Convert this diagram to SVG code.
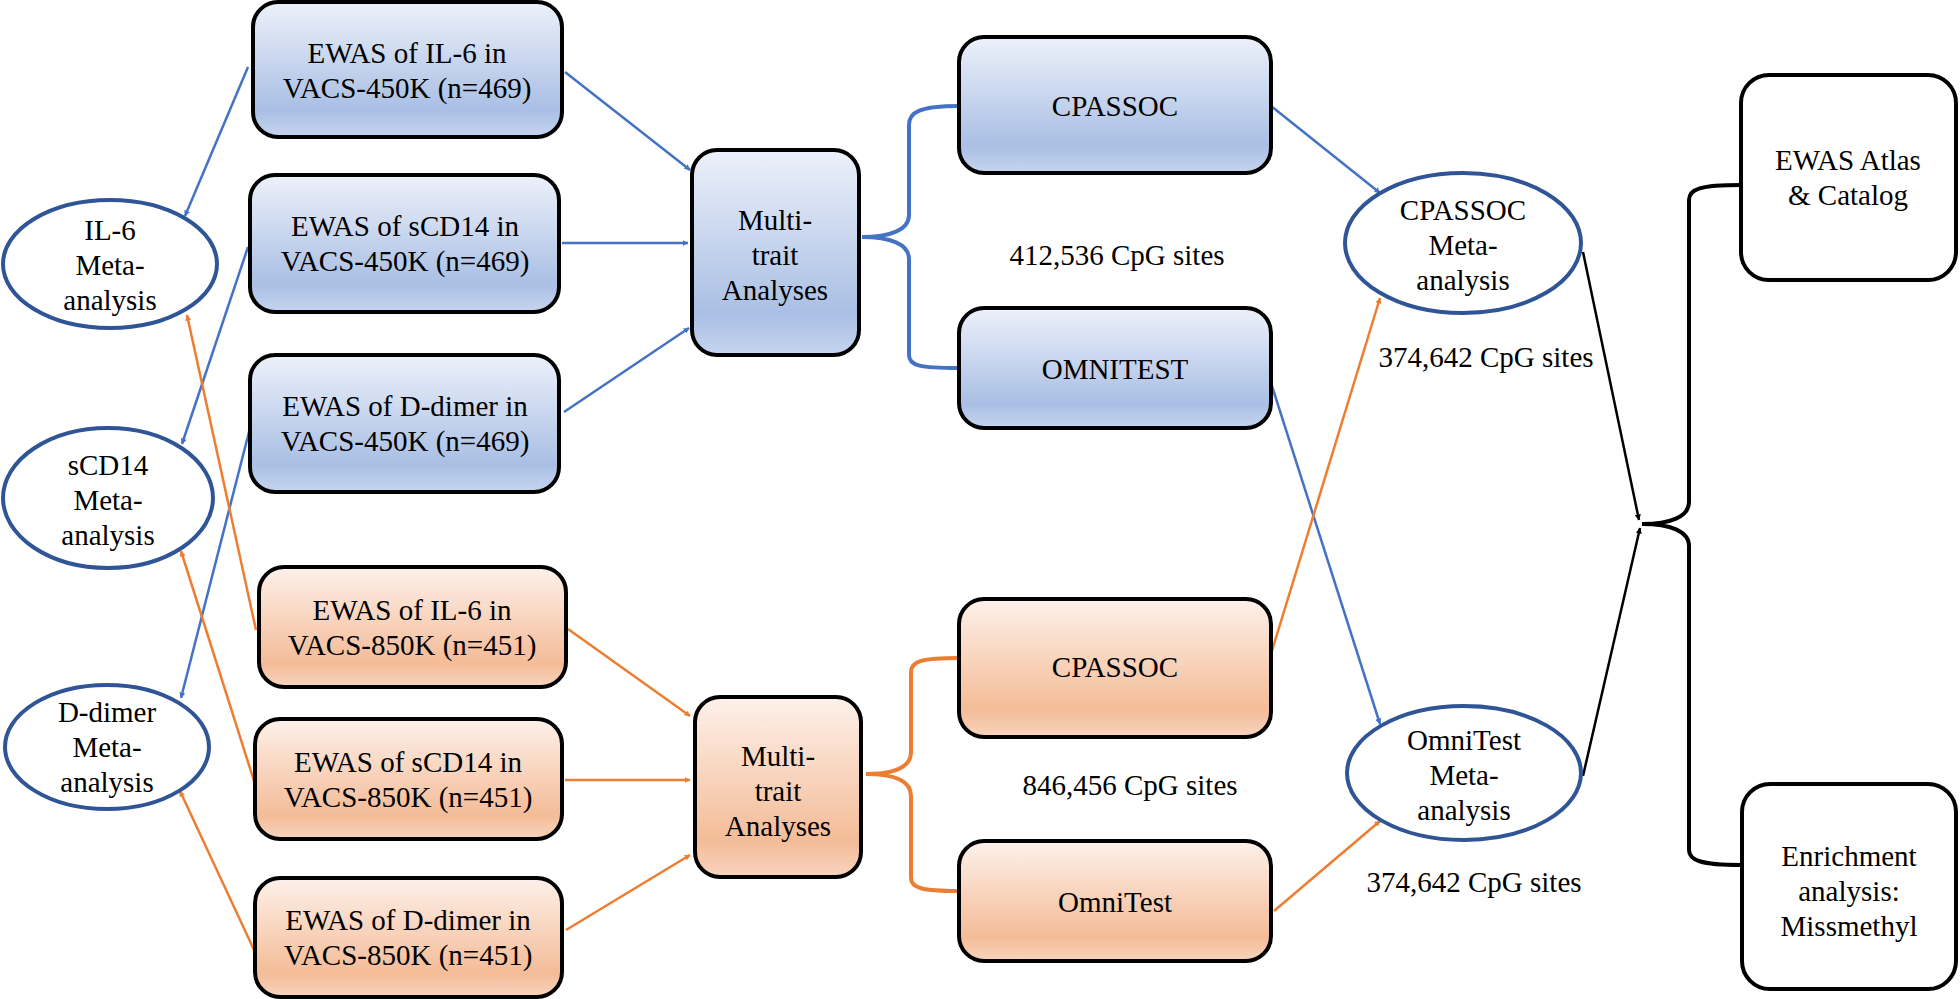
<svg xmlns="http://www.w3.org/2000/svg" width="1960" height="999" viewBox="0 0 1960 999">
<defs>
<linearGradient id="gb" x1="0" y1="0" x2="0" y2="1"><stop offset="0" stop-color="#EDF1FA"/><stop offset="0.8" stop-color="#A9BFE4"/><stop offset="1" stop-color="#C6D5EF"/></linearGradient>
<linearGradient id="go" x1="0" y1="0" x2="0" y2="1"><stop offset="0" stop-color="#FDF1EA"/><stop offset="0.8" stop-color="#F4BC98"/><stop offset="1" stop-color="#F8D4BE"/></linearGradient>
<marker id="ab" viewBox="0 0 10 10" refX="9" refY="5" markerWidth="6" markerHeight="6" orient="auto" markerUnits="userSpaceOnUse"><path d="M0,0 L10,5 L0,10 z" fill="#4472C4"/></marker>
<marker id="ao" viewBox="0 0 10 10" refX="9" refY="5" markerWidth="6" markerHeight="6" orient="auto" markerUnits="userSpaceOnUse"><path d="M0,0 L10,5 L0,10 z" fill="#ED7D31"/></marker>
<marker id="ak" viewBox="0 0 10 10" refX="9" refY="5" markerWidth="6" markerHeight="6" orient="auto" markerUnits="userSpaceOnUse"><path d="M0,0 L10,5 L0,10 z" fill="#000"/></marker>
<style>
.b{fill:url(#gb);stroke:#000;stroke-width:4}
.o{fill:url(#go);stroke:#000;stroke-width:4}
.w{fill:#fff;stroke:#000;stroke-width:4}
.e{fill:#fff;stroke:#2F5597;stroke-width:4}
text{font-family:"Liberation Serif","Times New Roman",serif;font-size:29px;fill:#000;text-anchor:middle}
.lb{stroke:#4472C4;stroke-width:2.5;fill:none;marker-end:url(#ab)}
.lo{stroke:#ED7D31;stroke-width:2.5;fill:none;marker-end:url(#ao)}
.lk{stroke:#000;stroke-width:2.5;fill:none;marker-end:url(#ak)}
.bb{stroke:#4472C4;stroke-width:4;fill:none}
.bo{stroke:#ED7D31;stroke-width:4;fill:none}
.bk{stroke:#000;stroke-width:4;fill:none}
</style>
</defs>
<rect width="1960" height="999" fill="#fff"/>
<g id="connectors">
<path class="lb" d="M565,72 L690,170"/>
<path class="lb" d="M562,243 L688,243"/>
<path class="lb" d="M564,412 L689,328"/>
<path class="lb" d="M248,67 L185,216"/>
<path class="lb" d="M248,247 L182,444"/>
<path class="lb" d="M250,428 L181,698"/>
<path class="lo" d="M568,629 L690,716"/>
<path class="lo" d="M565,780 L690,780"/>
<path class="lo" d="M566,930 L690,855"/>
<path class="lo" d="M256,630 L187,315"/>
<path class="lo" d="M255,784 L181,551"/>
<path class="lo" d="M255,952 L180,791"/>
<path class="bb" d="M862,237 C890,237 909,230 909,215 L909,125 C909,112 920,106 959,106 M862,237 C890,237 909,244 909,259 L909,355 C909,366 920,368 959,368"/>
<path class="bo" d="M866,774 C894,774 911,767 911,752 L911,672 C911,661 922,658 959,658 M866,774 C894,774 911,781 911,796 L911,878 C911,888 922,891 959,891"/>
<path class="bk" d="M1642,524 C1670,524 1689,517 1689,502 L1689,200 C1689,189 1700,185 1741,185 M1642,524 C1670,524 1689,531 1689,546 L1689,850 C1689,860 1700,865 1741,865"/>
<path class="lb" d="M1271,106 L1380,193"/>
<path class="lb" d="M1271,383 L1380,724"/>
<path class="lo" d="M1271,654 L1380,298"/>
<path class="lo" d="M1274,911 L1380,821"/>
<path class="lk" d="M1583,252 L1639,520"/>
<path class="lk" d="M1583,776 L1640,528"/>
</g>
<g id="n_il6_450"><rect class="b" x="253" y="2" width="309" height="135" rx="25"/><text x="407" y="63">EWAS of IL-6 in</text><text x="407" y="98">VACS-450K (n=469)</text></g>
<g id="n_scd14_450"><rect class="b" x="250" y="175" width="309" height="137" rx="25"/><text x="405" y="236">EWAS of sCD14 in</text><text x="405" y="271">VACS-450K (n=469)</text></g>
<g id="n_ddimer_450"><rect class="b" x="250" y="355" width="309" height="137" rx="25"/><text x="405" y="416">EWAS of D-dimer in</text><text x="405" y="451">VACS-450K (n=469)</text></g>
<g id="n_multi_450"><rect class="b" x="692" y="150" width="167" height="205" rx="25"/><text x="775" y="230">Multi-</text><text x="775" y="265">trait</text><text x="775" y="300">Analyses</text></g>
<g id="n_cpassoc_450"><rect class="b" x="959" y="37" width="312" height="136" rx="25"/><text x="1115" y="116">CPASSOC</text></g>
<g id="n_omnitest_450"><rect class="b" x="959" y="308" width="312" height="120" rx="25"/><text x="1115" y="379">OMNITEST</text></g>
<g id="n_il6_850"><rect class="o" x="259" y="567" width="307" height="120" rx="25"/><text x="412" y="620">EWAS of IL-6 in</text><text x="412" y="655">VACS-850K (n=451)</text></g>
<g id="n_scd14_850"><rect class="o" x="255" y="719" width="307" height="120" rx="25"/><text x="408" y="772">EWAS of sCD14 in</text><text x="408" y="807">VACS-850K (n=451)</text></g>
<g id="n_ddimer_850"><rect class="o" x="255" y="878" width="307" height="119" rx="25"/><text x="408" y="930">EWAS of D-dimer in</text><text x="408" y="965">VACS-850K (n=451)</text></g>
<g id="n_multi_850"><rect class="o" x="695" y="697" width="166" height="180" rx="25"/><text x="778" y="766">Multi-</text><text x="778" y="801">trait</text><text x="778" y="836">Analyses</text></g>
<g id="n_cpassoc_850"><rect class="o" x="959" y="599" width="312" height="138" rx="25"/><text x="1115" y="677">CPASSOC</text></g>
<g id="n_omnitest_850"><rect class="o" x="959" y="841" width="312" height="120" rx="25"/><text x="1115" y="912">OmniTest</text></g>
<g id="n_il6_meta"><ellipse class="e" cx="110" cy="264" rx="107" ry="64"/><text x="110" y="240">IL-6</text><text x="110" y="275">Meta-</text><text x="110" y="310">analysis</text></g>
<g id="n_scd14_meta"><ellipse class="e" cx="108" cy="498" rx="105" ry="70"/><text x="108" y="475">sCD14</text><text x="108" y="510">Meta-</text><text x="108" y="545">analysis</text></g>
<g id="n_ddimer_meta"><ellipse class="e" cx="107" cy="747" rx="102" ry="62"/><text x="107" y="722">D-dimer</text><text x="107" y="757">Meta-</text><text x="107" y="792">analysis</text></g>
<g id="n_cpassoc_meta"><ellipse class="e" cx="1463" cy="243" rx="118" ry="70"/><text x="1463" y="220">CPASSOC</text><text x="1463" y="255">Meta-</text><text x="1463" y="290">analysis</text></g>
<g id="n_omnitest_meta"><ellipse class="e" cx="1464" cy="773" rx="117" ry="67"/><text x="1464" y="750">OmniTest</text><text x="1464" y="785">Meta-</text><text x="1464" y="820">analysis</text></g>
<g id="n_atlas"><rect class="w" x="1741" y="75" width="215" height="205" rx="28"/><text x="1848" y="170">EWAS Atlas</text><text x="1848" y="205">&amp; Catalog</text></g>
<g id="n_enrich"><rect class="w" x="1742" y="784" width="214" height="205" rx="28"/><text x="1849" y="866">Enrichment</text><text x="1849" y="901">analysis:</text><text x="1849" y="936">Missmethyl</text></g>
<g id="labels">
<text x="1117" y="265">412,536 CpG sites</text>
<text x="1486" y="367">374,642 CpG sites</text>
<text x="1130" y="795">846,456 CpG sites</text>
<text x="1474" y="892">374,642 CpG sites</text>
</g>
</svg>
